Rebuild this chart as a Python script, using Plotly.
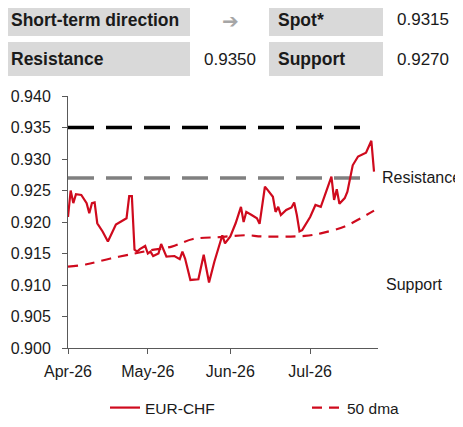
import plotly.graph_objects as go

# EUR-CHF spot
spot_dates = ['2026-04-01', '2026-04-02', '2026-04-03', '2026-04-04', '2026-04-06', '2026-04-08',
              '2026-04-09', '2026-04-10', '2026-04-11', '2026-04-12', '2026-04-14', '2026-04-16',
              '2026-04-19', '2026-04-23', '2026-04-24', '2026-04-25', '2026-04-26', '2026-04-27',
              '2026-04-28', '2026-04-30', '2026-05-01', '2026-05-02', '2026-05-03', '2026-05-05',
              '2026-05-06', '2026-05-07', '2026-05-08', '2026-05-11', '2026-05-13', '2026-05-14',
              '2026-05-15', '2026-05-17', '2026-05-20', '2026-05-22', '2026-05-24', '2026-05-26',
              '2026-05-28', '2026-05-29', '2026-05-30', '2026-06-01', '2026-06-03', '2026-06-05',
              '2026-06-06', '2026-06-07', '2026-06-09', '2026-06-11', '2026-06-12', '2026-06-14',
              '2026-06-15', '2026-06-17', '2026-06-18', '2026-06-19', '2026-06-20', '2026-06-22',
              '2026-06-24', '2026-06-25', '2026-06-26', '2026-06-27', '2026-06-28', '2026-07-01',
              '2026-07-03', '2026-07-05', '2026-07-09', '2026-07-10', '2026-07-11', '2026-07-12',
              '2026-07-14', '2026-07-15', '2026-07-17', '2026-07-18', '2026-07-19', '2026-07-22',
              '2026-07-24', '2026-07-25']
spot_values = [0.9208, 0.9250, 0.9230, 0.9244, 0.9243, 0.9230,
               0.9214, 0.9230, 0.9231, 0.9198, 0.9185, 0.9169,
               0.9196, 0.9206, 0.9241, 0.9241, 0.9156, 0.9153,
               0.9157, 0.9162, 0.9150, 0.9153, 0.9146, 0.9150,
               0.9165, 0.9156, 0.9145, 0.9146, 0.9141, 0.9153,
               0.9142, 0.9108, 0.9109, 0.9148, 0.9104, 0.9137,
               0.9163, 0.9179, 0.9166, 0.9177, 0.9198, 0.9224,
               0.9200, 0.9216, 0.9211, 0.9206, 0.9197, 0.9256,
               0.9251, 0.9240, 0.9216, 0.9224, 0.9211, 0.9219,
               0.9223, 0.9231, 0.9211, 0.9185, 0.9187, 0.9208,
               0.9227, 0.9224, 0.9272, 0.9235, 0.9252, 0.9229,
               0.9238, 0.9248, 0.9290, 0.9296, 0.9304, 0.9310,
               0.9329, 0.9280]

# 50 day moving average
dma_dates = ['2026-04-01', '2026-04-08', '2026-04-17', '2026-04-26', '2026-05-02', '2026-05-10',
             '2026-05-18', '2026-05-28', '2026-06-07', '2026-06-13', '2026-06-29', '2026-07-05',
             '2026-07-14', '2026-07-20', '2026-07-25']
dma_values = [0.9129, 0.9133, 0.9142, 0.9150, 0.9155, 0.9161,
              0.9173, 0.9176, 0.9179, 0.9177, 0.9178, 0.9182,
              0.9193, 0.9206, 0.9218]

# horizontal levels
level_dates = ['2026-04-01', '2026-07-21']
level_black = [0.935, 0.935]
level_grey = [0.927, 0.927]

# table at the top
table_labels = ['Short-term direction', 'Spot*', 'Resistance', 'Support']
table_values = ['0.9315', '0.9350', '0.9270']
direction_arrow = '➔'

RED = '#cf0a1d'
FONT = 'Arial, Liberation Sans, sans-serif'
TXT = '#1a1a1a'

# the page has an 8px body margin, so the figure is drawn 8px in
OFF = 8
W, H = 463 - OFF, 427 - OFF
# plot area in page pixels
L, R, T, B = 68, 378, 96, 348


def px(x):
    return (x - L) / (R - L)


def py(y):
    return (B - y) / (B - T)


fig = go.Figure()

fig.add_trace(go.Scatter(x=level_dates, y=level_black, mode='lines', showlegend=False,
                         line=dict(color='#000000', width=3.5, dash='26px,12px'), hoverinfo='skip'))
fig.add_trace(go.Scatter(x=level_dates, y=level_grey, mode='lines', showlegend=False,
                         line=dict(color='#808080', width=3.5, dash='26px,12px'), hoverinfo='skip'))
fig.add_trace(go.Scatter(x=spot_dates, y=spot_values, mode='lines', name='EUR-CHF',
                         line=dict(color=RED, width=2.2), legend='legend'))
fig.add_trace(go.Scatter(x=dma_dates, y=dma_values, mode='lines', name='50 dma',
                         line=dict(color=RED, width=2.2, dash='10px,7px', shape='spline'),
                         legend='legend2'))

# grey boxes of the table
boxes = [(4, 190, 4, 36), (269, 383, 4, 36), (4, 190, 42, 76), (269, 383, 42, 76)]
for x0, x1, y0, y1 in boxes:
    fig.add_shape(type='rect', xref='paper', yref='paper', x0=px(x0), x1=px(x1),
                  y0=py(y1), y1=py(y0), fillcolor='#d9d9d9', line_width=0, layer='below')

label_pos = [(9, 20), (276, 20), (9, 59), (276, 59)]
for text, (x, y) in zip(table_labels, label_pos):
    fig.add_annotation(text='<b>' + text + '</b>', xref='paper', yref='paper', x=px(x), y=py(y),
                       xanchor='left', yanchor='middle', showarrow=False,
                       font=dict(family=FONT, size=17.5, color=TXT))

value_pos = [(451, 20), (258, 59), (451, 59)]
for text, (x, y) in zip(table_values, value_pos):
    fig.add_annotation(text=text, xref='paper', yref='paper', x=px(x), y=py(y),
                       xanchor='right', yanchor='middle', showarrow=False,
                       font=dict(family=FONT, size=17, color=TXT))

fig.add_annotation(text='<b>' + direction_arrow + '</b>', xref='paper', yref='paper',
                   x=px(230), y=py(21), xanchor='center', yanchor='middle', showarrow=False,
                   font=dict(family='DejaVu Sans', size=20, color='#a6a6a6'))

# side labels
fig.add_annotation(text='Resistance', xref='paper', yref='paper', x=px(380), y=py(177),
                   xanchor='left', yanchor='middle', showarrow=False,
                   font=dict(family=FONT, size=16, color=TXT))
fig.add_annotation(text='Support', xref='paper', yref='paper', x=px(384), y=py(284),
                   xanchor='left', yanchor='middle', showarrow=False,
                   font=dict(family=FONT, size=16, color=TXT))

leg = dict(orientation='h', xanchor='left', yanchor='middle', y=py(408),
           font=dict(family=FONT, size=15.5, color=TXT), bgcolor='rgba(0,0,0,0)')

fig.update_layout(
    width=W,
    height=H,
    autosize=False,
    margin=dict(l=L - OFF, r=W - (R - OFF), t=T - OFF, b=H - (B - OFF), pad=0,
                autoexpand=False),
    plot_bgcolor='white',
    paper_bgcolor='white',
    font=dict(family=FONT, size=16, color=TXT),
    showlegend=True,
    legend=dict(leg, x=px(105)),
    legend2=dict(leg, x=px(307)),
    xaxis=dict(type='date', range=['2026-04-01', '2026-07-26 12:00'],
               tickvals=['2026-04-01', '2026-05-01', '2026-06-01', '2026-07-01'],
               ticktext=['Apr-26', 'May-26', 'Jun-26', 'Jul-26'],
               showgrid=False, zeroline=False, showline=True, linecolor='#595959', linewidth=1,
               ticks='outside', ticklen=5, tickcolor='#595959', ticklabelstandoff=4,
               tickfont=dict(family=FONT, size=16)),
    yaxis=dict(range=[0.900, 0.940], dtick=0.005, tickformat='.3f',
               showgrid=False, zeroline=False, showline=True, linecolor='#595959', linewidth=1,
               ticks='outside', ticklen=5, tickcolor='#595959', ticklabelstandoff=8,
               tickfont=dict(family=FONT, size=16)),
)

fig.write_html('out.html')
